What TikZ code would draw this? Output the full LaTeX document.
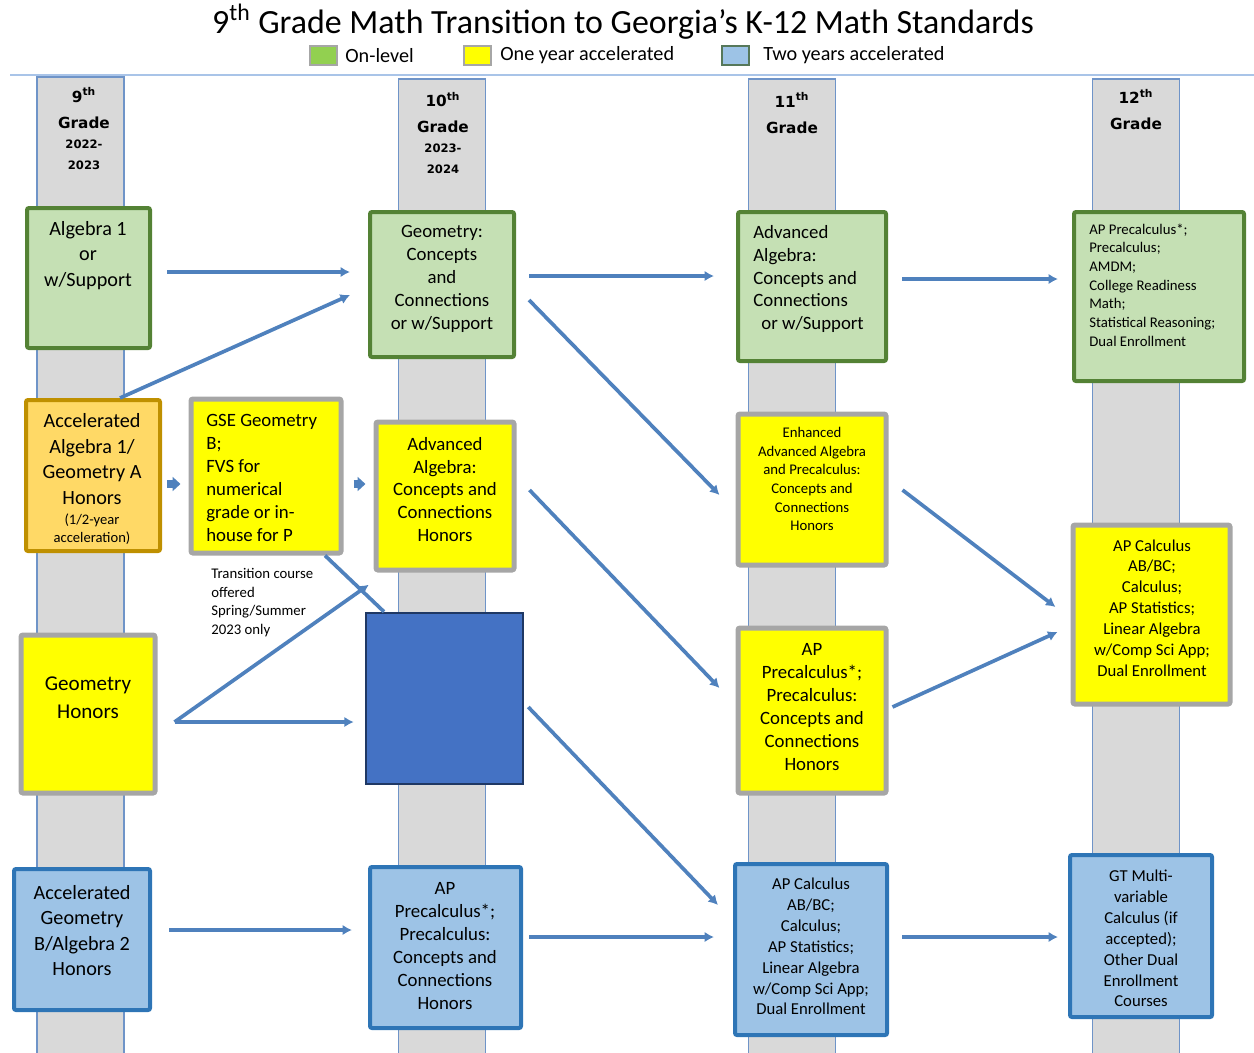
\documentclass[tikz,border=0pt]{standalone}
\usepackage{fontspec}
\setmainfont{Carlito}
\newfontfamily\hdrfont{DejaVu Sans}
\usetikzlibrary{arrows.meta,calc}
\newdimen\upx \upx=0.02cm
\definecolor{stripefill}{HTML}{D9D9D9}
\definecolor{stripeline}{HTML}{6F94C8}
\definecolor{rulecol}{HTML}{A9C4E8}
\definecolor{grnfill}{HTML}{C5E0B4}
\definecolor{grnline}{HTML}{548235}
\definecolor{yelfill}{HTML}{FFFF00}
\definecolor{yelline}{HTML}{A6A6A6}
\definecolor{orgfill}{HTML}{FFD966}
\definecolor{orgline}{HTML}{BF9000}
\definecolor{blufill}{HTML}{9DC3E6}
\definecolor{bluline}{HTML}{2E75B6}
\definecolor{navyfill}{HTML}{4472C4}
\definecolor{navyline}{HTML}{1F3864}
\definecolor{arrcol}{HTML}{4F81BD}
\definecolor{leggrn}{HTML}{92D050}
\definecolor{legblueline}{HTML}{56785A}
\tikzset{
  stripe/.style={draw=stripeline, line width=1.5\upx, fill=stripefill, minimum width=87\upx, inner sep=0pt},
  box/.style={rounded corners=2\upx, line width=4\upx, inner sep=0pt},
  gbox/.style={box, draw=grnline, fill=grnfill},
  ybox/.style={box, draw=yelline, fill=yelfill, line width=5\upx},
  obox/.style={box, draw=orgline, fill=orgfill},
  bbox/.style={box, draw=bluline, fill=blufill},
  nbox/.style={draw=navyline, fill=navyfill, line width=2.5\upx, inner sep=0pt},
  legsq/.style={minimum width=27\upx, minimum height=19\upx, inner sep=0pt, line width=2\upx},
  txt/.style={inner sep=0pt, align=center},
  bigtxt/.style={txt, font=\fontsize{11.5}{14.5}\selectfont},
  geohtxt/.style={txt, font=\fontsize{12}{16}\selectfont},
  midtxt/.style={txt, font=\fontsize{10.7}{13}\selectfont},
  smtxt/.style={txt, font=\fontsize{9.5}{11.9}\selectfont},
  tinytxt/.style={txt, font=\fontsize{8.4}{10.6}\selectfont},
  hdrtxt/.style={txt, font=\hdrfont\bfseries\fontsize{8.7}{14.7}\selectfont},
  yeartxt/.style={txt, font=\hdrfont\bfseries\fontsize{6.6}{11.9}\selectfont},
  legtxt/.style={inner sep=0pt, anchor=west, font=\fontsize{11.5}{13}\selectfont},
  arr/.style={draw=arrcol, line width=2.1pt, -{Latex[length=5.4pt,width=6pt]}},
  plainline/.style={draw=arrcol, line width=2.1pt},
  blockarr/.style={draw=arrcol, line width=4pt, -{Triangle[length=4.5pt,width=7.9pt]}}
}
\begin{document}
\begin{tikzpicture}[x=0.02cm, y=-0.02cm]
\useasboundingbox (0,0) rectangle (1254,1052);

% title and legend
\node[inner sep=0pt, font=\fontsize{19.3}{22}\selectfont] (title) at (623,22)
  {9\textsuperscript{th} Grade Math Transition to Georgia’s K-12 Math Standards};
\node[legsq, draw=yelline, fill=leggrn] (lg1) at (323.5,55.5) {};
\node[legtxt] (lg1t) at (345,55.5) {On-level};
\node[legsq, draw=yelline, fill=yelfill] (lg2) at (477.5,55.5) {};
\node[legtxt] (lg2t) at (500,55.5) {One year accelerated};
\node[legsq, draw=legblueline, fill=blufill] (lg3) at (735.5,55.5) {};
\node[legtxt] (lg3t) at (763,55.5) {Two years accelerated};
\draw[rulecol, line width=2\upx] (10,75) -- (1254,75);

% grade columns
\node[stripe, minimum height=990\upx, anchor=north] (col9) at (80.5,76) {};
\node[stripe, minimum height=990\upx, anchor=north] (col10) at (442,78) {};
\node[stripe, minimum height=990\upx, anchor=north] (col11) at (792,78) {};
\node[stripe, minimum height=990\upx, anchor=north] (col12) at (1136,78) {};
\node[hdrtxt] (h9) at (84,108) {9\textsuperscript{th}\\Grade};
\node[yeartxt] (h9y) at (84,154.5) {2022-\\2023};
\node[hdrtxt] (h10) at (443,112.5) {10\textsuperscript{th}\\Grade};
\node[yeartxt] (h10y) at (443,159) {2023-\\2024};
\node[hdrtxt] (h11) at (792,113) {11\textsuperscript{th}\\Grade};
\node[hdrtxt] (h12) at (1136,109.5) {12\textsuperscript{th}\\Grade};

% course boxes
\node[gbox, minimum width=123\upx, minimum height=140\upx] (alg1) at (88.5,278) {};
\node[gbox, minimum width=144\upx, minimum height=145\upx] (geo) at (442,284.5) {};
\node[gbox, minimum width=148\upx, minimum height=149\upx] (advg) at (812,286.5) {};
\node[gbox, minimum width=170\upx, minimum height=169\upx] (g12) at (1159,296.5) {};
\node[obox, minimum width=134\upx, minimum height=151\upx] (acc) at (93,475.5) {};
\node[ybox, minimum width=150\upx, minimum height=154\upx] (gse) at (266,476) {};
\node[ybox, minimum width=138\upx, minimum height=148\upx] (aah) at (445,496) {};
\node[ybox, minimum width=148\upx, minimum height=151\upx] (enh) at (812,489.5) {};
\node[ybox, minimum width=134\upx, minimum height=158\upx] (geoh) at (88,714) {};
\node[nbox, minimum width=157\upx, minimum height=171\upx] (dark) at (444.5,698.5) {};
\node[ybox, minimum width=148\upx, minimum height=165\upx] (app11) at (812,710.5) {};
\node[ybox, minimum width=157\upx, minimum height=179\upx] (apc12) at (1151.5,614.5) {};
\node[bbox, minimum width=136\upx, minimum height=141\upx] (agb) at (82,939.5) {};
\node[bbox, minimum width=151\upx, minimum height=161\upx] (app10) at (445.5,947.5) {};
\node[bbox, minimum width=152\upx, minimum height=171\upx] (apc11) at (811,949.5) {};
\node[bbox, minimum width=142\upx, minimum height=162\upx] (gt) at (1141,936) {};

% box texts
\node[bigtxt] (alg1t) at (88,255.5) {Algebra 1\\or\\w/Support};
\node[midtxt] (geot) at (442,279) {Geometry:\\Concepts\\and\\Connections\\or w/Support};
\node[midtxt, align=left, anchor=west] (advgt) at (753,279)
  {Advanced\\Algebra:\\Concepts and\\Connections\\\hspace*{8\upx}or w/Support};
\node[tinytxt, align=left, anchor=west] (g12t) at (1089,285)
  {AP Precalculus*;\\Precalculus;\\AMDM;\\College Readiness\\Math;\\Statistical Reasoning;\\Dual Enrollment};
\node[bigtxt] (acct) at (92,459) {Accelerated\\Algebra 1/\\Geometry A\\Honors};
\node[tinytxt, font=\fontsize{8.3}{10.2}\selectfont] (accs) at (92,529) {(1/2-year\\acceleration)};
\node[midtxt, align=left, anchor=west] (gset) at (206,478)
  {GSE Geometry\\B;\\FVS for\\numerical\\grade or in-\\house for P};
\node[tinytxt, align=left, anchor=west] (note) at (211,602.5)
  {Transition course\\offered\\Spring/Summer\\2023 only};
\node[midtxt] (aaht) at (445,489.5) {Advanced\\Algebra:\\Concepts and\\Connections\\Honors};
\node[tinytxt] (enht) at (812,479)
  {Enhanced\\Advanced Algebra\\and Precalculus:\\Concepts and\\Connections\\Honors};
\node[geohtxt] (geoht) at (88,698) {Geometry\\Honors};
\node[midtxt] (app11t) at (812,707)
  {AP\\Precalculus*;\\Precalculus:\\Concepts and\\Connections\\Honors};
\node[smtxt] (apc12t) at (1152,608)
  {AP Calculus\\AB/BC;\\Calculus;\\AP Statistics;\\Linear Algebra\\w/Comp Sci App;\\Dual Enrollment};
\node[bigtxt] (agbt) at (82,930.5) {Accelerated\\Geometry\\B/Algebra 2\\Honors};
\node[midtxt] (app10t) at (445,946)
  {AP\\Precalculus*;\\Precalculus:\\Concepts and\\Connections\\Honors};
\node[smtxt] (apc11t) at (811,946.5)
  {AP Calculus\\AB/BC;\\Calculus;\\AP Statistics;\\Linear Algebra\\w/Comp Sci App;\\Dual Enrollment};
\node[smtxt] (gtt) at (1141,938.5)
  {GT Multi-\\variable\\Calculus (if\\accepted);\\Other Dual\\Enrollment\\Courses};

% pathways
\draw[arr] ($(alg1.east |- 0,272)+(15,0)$) -- ($(geo.west |- 0,272)+(-18,0)$);
\draw[arr] (acc.north -| 120,0) -- ($(geo.west |- 0,295)+(-18,0)$);
\draw[arr] ($(geo.east |- 0,276)+(13,0)$) -- ($(advg.west |- 0,276)+(-22,0)$);
\draw[arr] ($(geo.east |- 0,300)+(13,0)$) -- ($(enh.west |- 0,495)+(-16,0)$);
\draw[arr] ($(advg.east |- 0,279)+(14,0)$) -- ($(g12.west |- 0,279)+(-14,0)$);
\draw[blockarr] ($(acc.east |- 0,484)+(5,0)$) -- ($(gse.west |- 0,484)+(-8,0)$);
\draw[blockarr] ($(gse.east |- 0,484)+(10,0)$) -- ($(aah.west |- 0,484)+(-8,0)$);
\draw[arr] ($(aah.east |- 0,490)+(13,0)$) -- ($(app11.west |- 0,688)+(-16,0)$);
\draw[plainline] (gse.south -| 325,0) -- (dark.north -| 384,0);
\coordinate (fork) at ($(geoh.east |- 0,722)+(17,0)$);
\draw[arr] (fork) -- ($(dark.north west)+(4,-27)$);
\draw[arr] (fork) -- ($(dark.west |- 0,722)+(-11,0)$);
\draw[arr] ($(enh.east |- 0,490)+(14,0)$) -- ($(apc12.west |- 0,607)+(-15,0)$);
\draw[arr] ($(app11.east |- 0,707)+(4,0)$) -- ($(apc12.west |- 0,632)+(-13,0)$);
\draw[arr] ($(dark.east |- 0,707)+(4,0)$) -- ($(apc11.west |- 0,905)+(-15,0)$);
\draw[arr] ($(agb.east |- 0,930)+(17,0)$) -- ($(app10.west |- 0,930)+(-16,0)$);
\draw[arr] ($(app10.east |- 0,937)+(6,0)$) -- ($(apc11.west |- 0,937)+(-19,0)$);
\draw[arr] ($(apc11.east |- 0,937)+(13,0)$) -- ($(gt.west |- 0,937)+(-10,0)$);
\end{tikzpicture}
\end{document}
